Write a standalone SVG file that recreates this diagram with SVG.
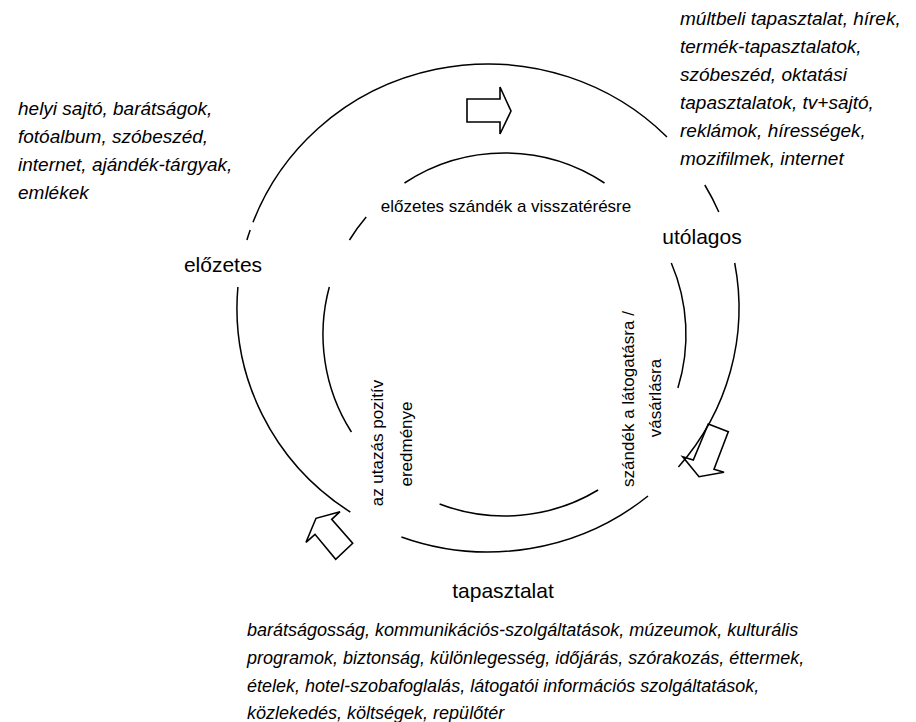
<svg xmlns="http://www.w3.org/2000/svg" width="916" height="722" viewBox="0 0 916 722">
<style>
.arc{fill:none;stroke:#000;stroke-width:1.5}
.arr{fill:none;stroke:#000;stroke-width:1.6;stroke-linejoin:miter}
.lbl{font-family:"Liberation Sans",Arial,sans-serif;font-size:21px;fill:#000;text-anchor:middle}
.in{font-family:"Liberation Sans",Arial,sans-serif;font-size:17px;fill:#000;text-anchor:middle}
.it{font-family:"Liberation Sans",Arial,sans-serif;font-size:19px;font-style:italic;fill:#000}
.itb{font-family:"Liberation Sans",Arial,sans-serif;font-size:18px;font-style:italic;fill:#000}
</style>
<rect width="916" height="722" fill="#fff"/>
<g id="connectors">
<path class="arc" d="M253,222.3 A251,244 0 0,1 667,137"/>
<path class="arc" d="M250.2,230 A251,244 0 0,0 246.9,240"/>
<path class="arc" d="M237.9,287 A251,244 0 0,0 350.3,512"/>
<path class="arc" d="M401.4,537 A251,244 0 0,0 648,496"/>
<path class="arc" d="M678.4,467 A251,244 0 0,0 734.7,263"/>
<path class="arc" d="M704.8,185 A251,244 0 0,1 718.8,212"/>
<path class="arc" d="M404.5,183 A181.5,181.5 0 0,1 604.5,183"/>
<path class="arc" d="M366.2,217 A181.5,181.5 0 0,0 349.5,240"/>
<path class="arc" d="M329.3,287 A181.5,181.5 0 0,0 351.4,432"/>
<path class="arc" d="M439.6,504 A181.5,181.5 0 0,0 598.1,490"/>
<path class="arc" d="M677.9,388 A181.5,181.5 0 0,0 671.3,263"/>
</g>
<g id="arrow-top"><polygon class="arr" points="467,99 500,99 500,87 511,111 500,134 500,122 467,122"/></g>
<g id="arrow-right"><polygon class="arr" points="708.3,424 728.3,431.7 714,469.3 724,472.3 699,476.7 682.7,456.7 693.3,460"/></g>
<g id="arrow-left"><polygon class="arr" points="340,511.7 331.7,519.3 352.7,543.3 335.7,559.3 315,534.3 306,542.3 316,518.3"/></g>
<g id="node-elozetes"><text class="lbl" x="223" y="272">előzetes</text></g>
<g id="node-utolagos"><text class="lbl" x="702" y="244">utólagos</text></g>
<g id="node-tapasztalat"><text class="lbl" x="503" y="598">tapasztalat</text></g>
<g id="node-szandek-vissza"><text class="in" x="506" y="212">előzetes szándék a visszatérésre</text></g>
<g id="node-pozitiv">
<text class="in" transform="translate(383,443) rotate(-90)">az utazás pozitív</text>
<text class="in" transform="translate(412,444) rotate(-90)">eredménye</text>
</g>
<g id="node-latogatas">
<text class="in" transform="translate(634,399) rotate(-90)">szándék a látogatásra /</text>
<text class="in" transform="translate(661,398) rotate(-90)">vásárlásra</text>
</g>
<g id="note-right">
<text class="it" x="680" y="25">múltbeli tapasztalat, hírek,</text>
<text class="it" x="680" y="53">termék-tapasztalatok,</text>
<text class="it" x="680" y="81">szóbeszéd, oktatási</text>
<text class="it" x="680" y="109">tapasztalatok, tv+sajtó,</text>
<text class="it" x="680" y="137">reklámok, hírességek,</text>
<text class="it" x="680" y="165">mozifilmek, internet</text>
</g>
<g id="note-left">
<text class="it" x="18" y="115">helyi sajtó, barátságok,</text>
<text class="it" x="18" y="143">fotóalbum, szóbeszéd,</text>
<text class="it" x="18" y="171">internet, ajándék-tárgyak,</text>
<text class="it" x="18" y="199">emlékek</text>
</g>
<g id="note-bottom">
<text class="itb" x="247" y="636">barátságosság, kommunikációs-szolgáltatások, múzeumok, kulturális</text>
<text class="itb" x="247" y="664">programok,  biztonság, különlegesség, időjárás, szórakozás, éttermek,</text>
<text class="itb" x="247" y="692">ételek, hotel-szobafoglalás, látogatói információs szolgáltatások,</text>
<text class="itb" x="247" y="719">közlekedés, költségek, repülőtér</text>
</g>
</svg>
